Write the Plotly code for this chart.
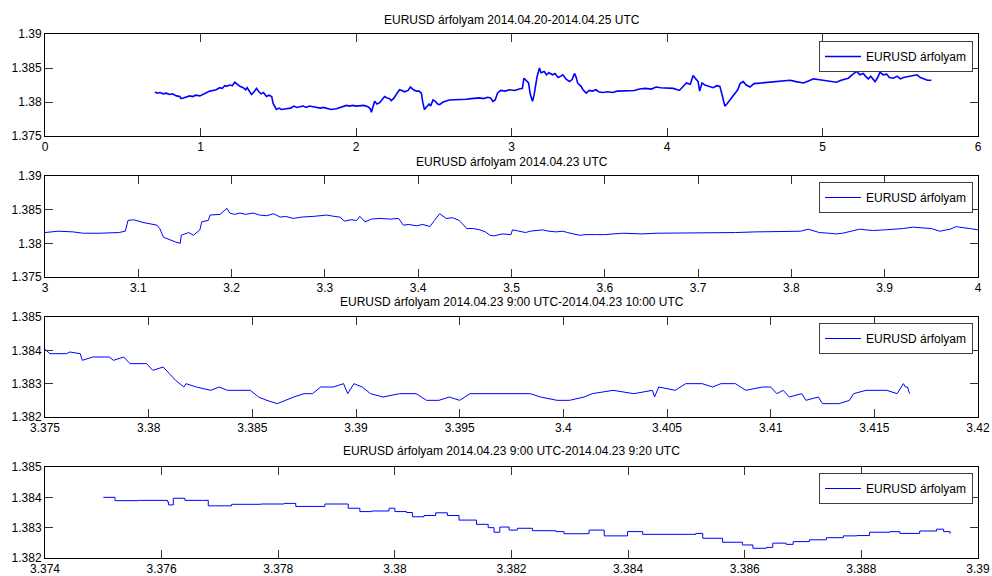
import plotly.graph_objects as go

# ---- data: EURUSD rate vs. time (days) ----
p1_x = [0.707, 0.72, 0.74, 0.76, 0.78, 0.80, 0.82, 0.845, 0.867, 0.875, 0.89, 0.91, 0.93, 0.95, 0.97, 0.996,
        1.02, 1.04, 1.06, 1.08, 1.10, 1.124, 1.14, 1.155, 1.167, 1.19, 1.205, 1.22, 1.235, 1.253, 1.275, 1.29,
        1.30, 1.315, 1.328, 1.345, 1.36, 1.375, 1.39, 1.405, 1.424, 1.44, 1.458, 1.467, 1.488, 1.505, 1.52,
        1.552, 1.58, 1.60, 1.62, 1.638, 1.66, 1.68, 1.70, 1.724, 1.75, 1.77, 1.79, 1.81, 1.84, 1.874, 1.90,
        1.938, 1.96, 1.98, 2.00, 2.024, 2.05, 2.077, 2.092, 2.099, 2.11, 2.12, 2.135, 2.152, 2.17, 2.184, 2.20,
        2.215, 2.227, 2.245, 2.259, 2.28, 2.295, 2.313, 2.335, 2.35, 2.37, 2.388, 2.405, 2.42, 2.43, 2.44,
        2.455, 2.47, 2.48, 2.495, 2.51, 2.525, 2.537, 2.56, 2.6, 2.63, 2.66, 2.709, 2.74, 2.77, 2.794, 2.82,
        2.848, 2.865, 2.88, 2.895, 2.91, 2.93, 2.96, 2.985, 3.02, 3.05, 3.07, 3.08, 3.095, 3.11, 3.12, 3.135,
        3.145, 3.157, 3.165, 3.18, 3.19, 3.21, 3.225, 3.24, 3.265, 3.28, 3.3, 3.318, 3.33, 3.35, 3.372, 3.39,
        3.405, 3.415, 3.425, 3.447, 3.46, 3.48, 3.5, 3.52, 3.544, 3.56, 3.587, 3.62, 3.65, 3.68, 3.716, 3.75,
        3.79, 3.823, 3.86, 3.9, 3.93, 3.96, 4.0, 4.04, 4.08, 4.1, 4.125, 4.15, 4.168, 4.185, 4.2, 4.21, 4.225,
        4.243, 4.27, 4.297, 4.32, 4.34, 4.355, 4.372, 4.385, 4.404, 4.42, 4.436, 4.455, 4.47, 4.49, 4.51,
        4.533, 4.56, 4.598, 4.64, 4.684, 4.72, 4.76, 4.791, 4.83, 4.877, 4.91, 4.942, 4.97, 5.006, 5.04, 5.09,
        5.12, 5.145, 5.166, 5.19, 5.22, 5.24, 5.262, 5.28, 5.295, 5.31, 5.338, 5.355, 5.37, 5.39, 5.413, 5.43,
        5.456, 5.48, 5.50, 5.521, 5.55, 5.58, 5.607, 5.63, 5.65, 5.675, 5.7]
p1_y = [1.3815, 1.3813, 1.3814, 1.3812, 1.3813, 1.3811, 1.3812, 1.3809, 1.3808, 1.3805, 1.3806, 1.3808, 1.3809,
        1.3808, 1.3810, 1.3809, 1.3812, 1.3814, 1.3816, 1.3817, 1.3818, 1.3821, 1.3820, 1.3824, 1.3823, 1.3825,
        1.3824, 1.3829, 1.3826, 1.3823, 1.3821, 1.3818, 1.3821, 1.3816, 1.3811, 1.3815, 1.3820, 1.3815, 1.3812,
        1.3814, 1.3808, 1.3810, 1.3808, 1.3798, 1.3789, 1.3791, 1.3789, 1.3790, 1.3791, 1.3794, 1.3792, 1.3793,
        1.3794, 1.3792, 1.3794, 1.3793, 1.3792, 1.3791, 1.3792, 1.3791, 1.3789, 1.3790, 1.3792, 1.3795, 1.3794,
        1.3795, 1.3794, 1.3794, 1.3795, 1.3793, 1.3790, 1.3785, 1.3792, 1.3801, 1.3797, 1.3799, 1.3804, 1.3808,
        1.3806, 1.3805, 1.3802, 1.3806, 1.3811, 1.3818, 1.3817, 1.3815, 1.3817, 1.3822, 1.3818, 1.3816, 1.3816,
        1.3813, 1.3799, 1.3789, 1.3793, 1.3797, 1.3794, 1.3803, 1.3801, 1.3797, 1.3796, 1.3800, 1.3803, 1.3803,
        1.3804, 1.3804, 1.3805, 1.3806, 1.3806, 1.3805, 1.3807, 1.3806, 1.3801, 1.3803, 1.3813, 1.3817, 1.3816,
        1.3818, 1.3817, 1.3819, 1.3820, 1.3835, 1.3831, 1.3828, 1.3812, 1.3801, 1.3810, 1.3828, 1.3838, 1.3850,
        1.3843, 1.3845, 1.3840, 1.3843, 1.3840, 1.3842, 1.3836, 1.3838, 1.3840, 1.3834, 1.3830, 1.3833, 1.3842,
        1.3837, 1.3828, 1.3823, 1.3818, 1.3813, 1.3817, 1.3816, 1.3818, 1.3815, 1.3814, 1.3815, 1.3814, 1.3816,
        1.3816, 1.3817, 1.3817, 1.3819, 1.3820, 1.3819, 1.3822, 1.3821, 1.3821, 1.3820, 1.3817, 1.3822, 1.3828,
        1.3826, 1.3839, 1.3834, 1.3830, 1.3816, 1.3828, 1.3825, 1.3823, 1.3821, 1.3824, 1.3823, 1.3810, 1.3794,
        1.3797, 1.3803, 1.3808, 1.3813, 1.3818, 1.3827, 1.3830, 1.3825, 1.3822, 1.3827, 1.3828, 1.3829, 1.3830,
        1.3831, 1.3832, 1.3832, 1.3830, 1.3828, 1.3831, 1.3834, 1.3833, 1.3832, 1.3831, 1.3829, 1.3832, 1.3834,
        1.3835, 1.3840, 1.3845, 1.3840, 1.3842, 1.3837, 1.3834, 1.3838, 1.3830, 1.3836, 1.3844, 1.3840, 1.3841,
        1.3836, 1.3835, 1.3838, 1.3834, 1.3836, 1.3837, 1.3838, 1.3840, 1.3836, 1.3834, 1.3832, 1.3832]

p2_x = [3.0, 3.014, 3.03, 3.041, 3.059, 3.079, 3.086, 3.089, 3.095, 3.105, 3.12, 3.123, 3.127, 3.134, 3.14,
        3.145, 3.146, 3.154, 3.159, 3.166, 3.168, 3.175, 3.177, 3.1875, 3.195, 3.198, 3.203, 3.209, 3.215,
        3.223, 3.23, 3.2375, 3.245, 3.252, 3.258, 3.266, 3.275, 3.2875, 3.295, 3.302, 3.31, 3.316, 3.321,
        3.328, 3.334, 3.3375, 3.343, 3.35, 3.359, 3.37, 3.379, 3.384, 3.39, 3.398, 3.405, 3.4125, 3.4175,
        3.423, 3.43, 3.437, 3.444, 3.452, 3.459, 3.466, 3.472, 3.477, 3.481, 3.49, 3.4995, 3.501, 3.505, 3.51,
        3.515, 3.52, 3.527, 3.533, 3.54, 3.548, 3.555, 3.56, 3.573, 3.58, 3.591, 3.60, 3.619, 3.64, 3.655,
        3.67, 3.691, 3.71, 3.727, 3.74, 3.762, 3.78, 3.798, 3.81, 3.818, 3.83, 3.84, 3.848, 3.855, 3.862,
        3.873, 3.88, 3.887, 3.90, 3.913, 3.92, 3.93, 3.941, 3.95, 3.959, 3.97, 3.977, 3.98, 3.991, 4.0]
p2_y = [1.3816, 1.3818, 1.3817, 1.3815, 1.3815, 1.3816, 1.3818, 1.3834, 1.3835, 1.3831, 1.3827, 1.3822, 1.3809,
        1.3805, 1.3802, 1.3800, 1.3812, 1.3816, 1.3812, 1.3820, 1.3832, 1.3834, 1.3842, 1.3843, 1.3852, 1.3845,
        1.3843, 1.3845, 1.3843, 1.3845, 1.3842, 1.3841, 1.3844, 1.3839, 1.3840, 1.3837, 1.3839, 1.3840, 1.3841,
        1.3842, 1.3840, 1.3839, 1.3833, 1.3835, 1.3834, 1.3840, 1.3832, 1.3836, 1.3837, 1.3836, 1.3837, 1.3827,
        1.3828, 1.3826, 1.3828, 1.3825, 1.3834, 1.3844, 1.3837, 1.3838, 1.3834, 1.3822, 1.3822, 1.3820, 1.3817,
        1.3812, 1.3811, 1.3814, 1.3813, 1.3820, 1.3819, 1.3817, 1.3816, 1.3818, 1.3819, 1.3820, 1.3818, 1.3817,
        1.3818, 1.3816, 1.3812, 1.3813, 1.3813, 1.3813, 1.3815, 1.3814, 1.3815, 1.3815, 1.3815, 1.3815, 1.3815,
        1.3816, 1.3817, 1.3817, 1.3818, 1.3818, 1.3821, 1.3816, 1.3815, 1.3814, 1.3815, 1.3817, 1.3821, 1.3820,
        1.3819, 1.3820, 1.3821, 1.3822, 1.3824, 1.3823, 1.3822, 1.3818, 1.3821, 1.3825, 1.3824, 1.3822, 1.3820]

p3_x = [3.375, 3.37524, 3.37604, 3.3762, 3.3767, 3.3768, 3.3773, 3.3781, 3.3783, 3.3788, 3.3791, 3.3796,
        3.3799, 3.3802, 3.3807, 3.3810, 3.3813, 3.3817, 3.3818, 3.3823, 3.3830, 3.3834, 3.3838, 3.3844, 3.3849,
        3.3853, 3.3857, 3.3862, 3.3866, 3.3870, 3.3875, 3.3879, 3.3883, 3.3889, 3.3894, 3.3896, 3.3899, 3.3903,
        3.3907, 3.3913, 3.3921, 3.3929, 3.3934, 3.3940, 3.3945, 3.3950, 3.3955, 3.3966, 3.3975, 3.3984, 3.3989,
        3.3997, 3.4003, 3.4010, 3.4014, 3.4024, 3.4034, 3.4043, 3.4044, 3.4046, 3.4054, 3.4059, 3.4067, 3.4072,
        3.4076, 3.4083, 3.4088, 3.4096, 3.4100, 3.4103, 3.4106, 3.4109, 3.4115, 3.4117, 3.4123, 3.4125, 3.4133,
        3.4138, 3.4140, 3.4146, 3.4156, 3.4161, 3.4164, 3.4165, 3.4166, 3.4167]
p3_y = [1.38403, 1.3839, 1.3839, 1.38395, 1.3839, 1.3837, 1.3838, 1.3838, 1.3837, 1.3838, 1.3836, 1.3836,
        1.3836, 1.3834, 1.3835, 1.3833, 1.3831, 1.3829, 1.3830, 1.3829, 1.3828, 1.3829, 1.3828, 1.3828, 1.3828,
        1.3826, 1.3825, 1.3824, 1.3825, 1.3826, 1.3827, 1.3827, 1.3829, 1.3829, 1.3830, 1.3827, 1.3830, 1.3829,
        1.3827, 1.3826, 1.3827, 1.3827, 1.3825, 1.3825, 1.3826, 1.3825, 1.3827, 1.3827, 1.3827, 1.3827, 1.3826,
        1.3825, 1.3825, 1.3826, 1.3827, 1.3828, 1.3827, 1.3828, 1.3826, 1.3829, 1.3828, 1.3830, 1.3830, 1.3829,
        1.3830, 1.3830, 1.3828, 1.3829, 1.3829, 1.3827, 1.3828, 1.3826, 1.3827, 1.3825, 1.3826, 1.3824, 1.3824,
        1.3825, 1.3827, 1.3828, 1.3828, 1.3827, 1.3830, 1.3829, 1.3829, 1.3827]

p4_x = [3.375, 3.3752, 3.3756, 3.3761, 3.37612, 3.3762, 3.3764, 3.3767, 3.3768, 3.3772, 3.3777, 3.3781,
        3.3783, 3.3787, 3.3788, 3.3792, 3.3794, 3.3796, 3.3799, 3.3800, 3.3802, 3.3803, 3.3805, 3.3807, 3.3809,
        3.3811, 3.3814, 3.3816, 3.3817, 3.3818, 3.38196, 3.3821, 3.38236, 3.38276, 3.3829, 3.38333, 3.38359,
        3.38399, 3.38425, 3.3847, 3.38516, 3.38528, 3.38562, 3.38596, 3.38614, 3.38637, 3.38648, 3.38671,
        3.38683, 3.38711, 3.3874, 3.38769, 3.38792, 3.38814, 3.38849, 3.38866, 3.389, 3.38929, 3.38941, 3.38952]
p4_y = [1.3840, 1.38389, 1.38390, 1.38385, 1.38375, 1.38397, 1.38390, 1.38390, 1.38372, 1.38377, 1.38378,
        1.38380, 1.38370, 1.38370, 1.38378, 1.38364, 1.38353, 1.38355, 1.38364, 1.38353, 1.38350, 1.38336,
        1.38340, 1.38349, 1.38340, 1.38325, 1.38311, 1.38300, 1.38285, 1.38302, 1.38292, 1.38298, 1.38290,
        1.38287, 1.38280, 1.38292, 1.38273, 1.38287, 1.38278, 1.38278, 1.38281, 1.38265, 1.38252, 1.38243,
        1.38232, 1.38235, 1.38249, 1.38245, 1.38254, 1.38260, 1.38267, 1.38273, 1.38274, 1.38285, 1.38287,
        1.38281, 1.38289, 1.38295, 1.38287, 1.38280]

titles = ["EURUSD árfolyam 2014.04.20-2014.04.25 UTC",
          "EURUSD árfolyam 2014.04.23 UTC",
          "EURUSD árfolyam 2014.04.23 9:00 UTC-2014.04.23 10:00 UTC",
          "EURUSD árfolyam 2014.04.23 9:00 UTC-2014.04.23 9:20 UTC"]
series_name = "EURUSD árfolyam"

x_ranges = [[0, 6], [3, 4], [3.375, 3.42], [3.374, 3.39]]
x_tickvals = [[0, 1, 2, 3, 4, 5, 6],
              [3.0, 3.1, 3.2, 3.3, 3.4, 3.5, 3.6, 3.7, 3.8, 3.9, 4.0],
              [3.375, 3.38, 3.385, 3.39, 3.395, 3.4, 3.405, 3.41, 3.415, 3.42],
              [3.374, 3.376, 3.378, 3.38, 3.382, 3.384, 3.386, 3.388, 3.39]]
x_ticktext = [["0", "1", "2", "3", "4", "5", "6"],
              ["3", "3.1", "3.2", "3.3", "3.4", "3.5", "3.6", "3.7", "3.8", "3.9", "4"],
              ["3.375", "3.38", "3.385", "3.39", "3.395", "3.4", "3.405", "3.41", "3.415", "3.42"],
              ["3.374", "3.376", "3.378", "3.38", "3.382", "3.384", "3.386", "3.388", "3.39"]]
y_ranges = [[1.375, 1.39], [1.375, 1.39], [1.382, 1.385], [1.382, 1.385]]
y_tickvals = [[1.375, 1.38, 1.385, 1.39], [1.375, 1.38, 1.385, 1.39],
              [1.382, 1.383, 1.384, 1.385], [1.382, 1.383, 1.384, 1.385]]
y_ticktext = [["1.375", "1.38", "1.385", "1.39"], ["1.375", "1.38", "1.385", "1.39"],
              ["1.382", "1.383", "1.384", "1.385"], ["1.382", "1.383", "1.384", "1.385"]]

# ---- layout geometry (pixels in a 992x576 canvas) ----
W, H = 992, 576
ax_left, ax_right = 45, 978
ax_rows = [(34, 136), (176, 277), (317, 417), (467, 558)]   # (top, bottom) of each axes box
title_y = [20, 162, 302, 451]
legend_top = [41, 182, 323, 473]

FONT = "Liberation Sans, Arial, sans-serif"
BLUE = "#0000ff"

xs = [p1_x, p2_x, p3_x, p4_x]
ys = [p1_y, p2_y, p3_y, p4_y]
widths = [1.6, 1.0, 1.0, 1.0]
shapes_line = ["linear", "linear", "linear", "hv"]

fig = go.Figure()
layout = dict(
    width=W, height=H,
    margin=dict(l=0, r=0, t=0, b=0, autoexpand=False),
    paper_bgcolor="white", plot_bgcolor="white",
    font=dict(family=FONT, size=12, color="black"),
    annotations=[],
)

for i in range(4):
    sfx = "" if i == 0 else str(i + 1)
    fig.add_trace(go.Scatter(
        x=xs[i], y=ys[i], mode="lines", name=series_name,
        line=dict(color=BLUE, width=widths[i], shape=shapes_line[i]),
        xaxis="x" + sfx, yaxis="y" + sfx, legend="legend" + sfx,
        showlegend=True,
    ))
    top, bot = ax_rows[i]
    common = dict(showline=True, linecolor="black", linewidth=1, mirror="allticks",
                  ticks="inside", ticklen=8, tickcolor="#333333", tickwidth=1,
                  showgrid=False, zeroline=False, automargin=False,
                  tickfont=dict(family=FONT, size=12, color="black"))
    layout["xaxis" + sfx] = dict(
        domain=[ax_left / W, ax_right / W], range=x_ranges[i], anchor="y" + sfx,
        tickmode="array", tickvals=x_tickvals[i], ticktext=x_ticktext[i], **common)
    layout["yaxis" + sfx] = dict(
        domain=[1 - bot / H, 1 - top / H], range=y_ranges[i], anchor="x" + sfx,
        tickmode="array", tickvals=y_tickvals[i], ticktext=y_ticktext[i], **common)
    layout["legend" + sfx] = dict(
        x=973 / W, xanchor="right", y=1 - legend_top[i] / H, yanchor="top",
        xref="paper", yref="paper",
        bgcolor="white", bordercolor="#404040", borderwidth=1,
        font=dict(family=FONT, size=12, color="black"),
        itemwidth=36, tracegroupgap=0,
    )
    layout["annotations"].append(dict(
        text=titles[i], xref="paper", yref="paper",
        x=(ax_left + ax_right) / 2 / W, y=1 - title_y[i] / H,
        xanchor="center", yanchor="middle", showarrow=False,
        font=dict(family=FONT, size=12, color="black"),
    ))

fig.update_layout(**layout)
fig.write_html("out.html")
